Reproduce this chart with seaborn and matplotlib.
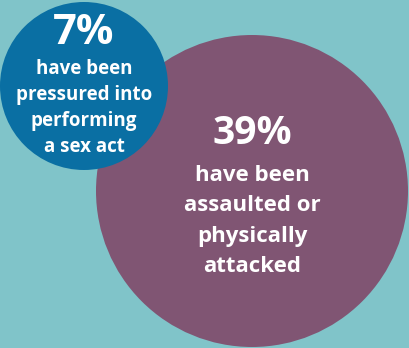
import matplotlib
matplotlib.use("Agg")
import matplotlib.pyplot as plt
import seaborn as sns
import pandas as pd

# Data
percent_values = [39, 7]
percent_labels = ["39%", "7%"]
descriptions = [
    "have been\nassaulted or\nphysically\nattacked",
    "have been\npressured into\nperforming\na sex act",
]

# Layout (pixel coordinates) and styles
centers_x = [252, 84]
centers_y = [191, 86]
diam_px = [312, 168]
colors = ["#805573", "#0A6FA3"]
bg = "#80C4C9"

sns.set_theme(style="white")
plt.rcParams["font.family"] = ["Open Sans", "DejaVu Sans"]

DPI = 100
fig = plt.figure(figsize=(4.09, 3.48), dpi=DPI, facecolor=bg)
ax = fig.add_axes([0, 0, 1, 1])
ax.set_facecolor(bg)

df = pd.DataFrame({
    "x": centers_x, "y": centers_y, "value": percent_values,
    "label": percent_labels, "desc": descriptions,
})
sizes_pt2 = [(d * 72 / DPI) ** 2 for d in diam_px]
sns.scatterplot(data=df, x="x", y="y", hue="label", palette=dict(zip(percent_labels, colors)),
                size="value", sizes=(min(sizes_pt2), max(sizes_pt2)),
                linewidth=0, legend=False, ax=ax, zorder=2)

ax.set_xlim(0, 409)
ax.set_ylim(348, 0)
ax.axis("off")

# Texts
title_sizes = [28, 30]
title_y = [133, 34]
desc_sizes = [16, 13.5]
desc_y = [221, 108]
line_sp = [1.6, 1.42]
for i in range(len(df)):
    ax.text(df.x[i], title_y[i], df.label[i], ha="center", va="center", color="white",
            fontsize=title_sizes[i], fontweight="bold", zorder=5)
    ax.text(df.x[i], desc_y[i], df.desc[i], ha="center", va="center", color="white",
            fontsize=desc_sizes[i], fontweight="bold", linespacing=line_sp[i], zorder=5)

fig.savefig("out.png", dpi=DPI, facecolor=bg)
